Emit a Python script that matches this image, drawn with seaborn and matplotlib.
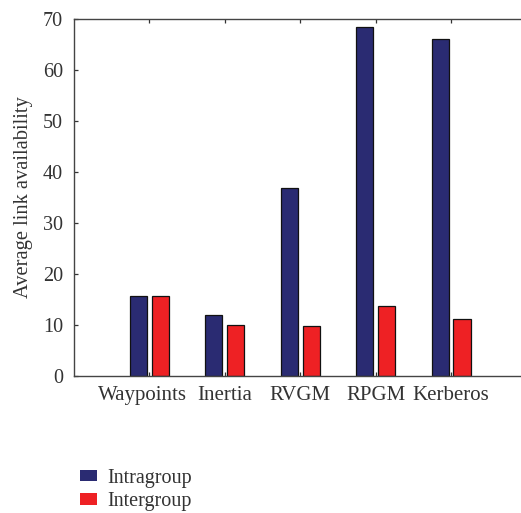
import matplotlib
matplotlib.use("Agg")
import matplotlib.pyplot as plt
from matplotlib.patches import Patch
from matplotlib.transforms import ScaledTranslation
import seaborn as sns
import pandas as pd

# Mobility models and average link availability per group type
models = ["Waypoints", "Inertia", "RVGM", "RPGM", "Kerberos"]
intragroup = [15.7, 12.0, 36.8, 68.5, 66.1]
intergroup = [15.7, 10.0, 9.9, 13.8, 11.2]
series_names = ["Intragroup", "Intergroup"]
series_colors = ["#2a2b72", "#ee2124"]
y_ticks = [0, 10, 20, 30, 40, 50, 60, 70]

df = pd.DataFrame({
    "model": models * 2,
    "value": intragroup + intergroup,
    "group": [series_names[0]] * len(models) + [series_names[1]] * len(models),
})

sns.set_theme(style="white")
plt.rcParams["font.family"] = ["Liberation Serif", "DejaVu Serif"]
plt.rcParams["text.color"] = "#333333"

fig = plt.figure(figsize=(5.21, 5.13), dpi=100)
ax = fig.add_axes([0.142, 0.267, 0.8685, 0.696])

sns.barplot(
    data=df, x="model", y="value", hue="group",
    order=models, hue_order=series_names,
    palette=series_colors, width=0.58, gap=0.22,
    edgecolor="#111111", linewidth=0.9, saturation=1,
    legend=False, ax=ax,
)

ax.set_xlim(-1, 5)
ax.set_ylim(0, 70)
ax.set_yticks(y_ticks)
ax.set_xlabel("")
ax.set_ylabel("Average link availability", fontsize=14.8, color="#333333", labelpad=7)

for side in ["left", "top", "bottom"]:
    ax.spines[side].set_color("#444444")
    ax.spines[side].set_linewidth(1.0)
ax.spines["right"].set_visible(False)

ax.tick_params(axis="x", direction="in", top=True, bottom=True, length=3,
               width=0.9, color="#333333", labelsize=15, labelcolor="#333333", pad=7)
ax.tick_params(axis="y", direction="in", left=True, length=3, width=0.9,
               color="#333333", labelsize=14.5, labelcolor="#333333", pad=8)

# nudge the first category label a little to the left
first = ax.get_xticklabels()[0]
first.set_transform(first.get_transform() + ScaledTranslation(-5 / 72, 0, fig.dpi_scale_trans))

handles = [Patch(facecolor=c, edgecolor="none") for c in series_colors]
fig.legend(handles, series_names, loc="upper left",
           bbox_to_anchor=(0.1535, 0.086), frameon=False, fontsize=14.5,
           handlelength=0.85, handleheight=0.5, handletextpad=0.5,
           labelspacing=0.22, borderpad=0, borderaxespad=0)

fig.savefig("out.png", dpi=100)
